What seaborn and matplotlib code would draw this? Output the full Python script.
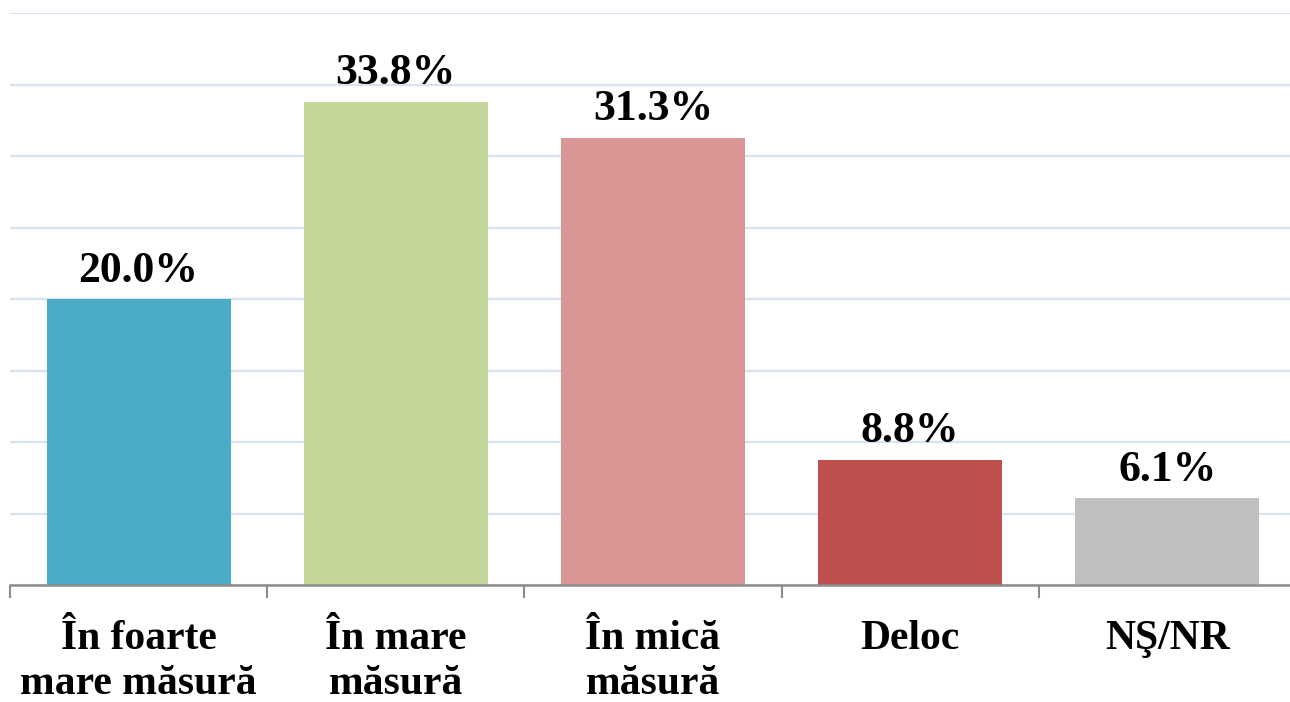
import matplotlib
matplotlib.use("Agg")
import matplotlib.pyplot as plt
import numpy as np
import pandas as pd
import seaborn as sns
from matplotlib.ticker import FixedLocator

categories = ["În foarte\nmare măsură", "În mare\nmăsură", "În mică\nmăsură", "Deloc", "NŞ/NR"]
values = [20.0, 33.8, 31.3, 8.8, 6.1]
colors = ["#4BACC6", "#C4D79B", "#DA9694", "#C0504D", "#BFBFBF"]

sns.set_style("white")
plt.rcParams["font.family"] = ["Liberation Serif", "DejaVu Serif"]

df = pd.DataFrame({"cat": categories, "val": values})

fig = plt.figure(figsize=(12.9, 7.02), dpi=100)
ax = fig.add_axes([10 / 1290, 0.166, 1286 / 1290, 0.8155])

sns.barplot(data=df, x="cat", y="val", hue="cat", palette=colors, legend=False,
            width=0.716, saturation=1, linewidth=0, ax=ax, zorder=3)

for c in ax.containers:
    ax.bar_label(c, fmt="%.1f%%", padding=6, fontsize=31.5, fontweight="bold", color="black")

ax.set_xlim(-0.5, len(categories) - 0.5)
ax.set_ylim(0, 40)
ax.set_yticks(np.arange(0, 41, 5))
ax.yaxis.grid(True, color="#D9E2F0", linewidth=1.6, zorder=0)
ax.set_axisbelow(True)
ax.tick_params(axis="y", left=False, labelleft=False)

ax.xaxis.set_minor_locator(FixedLocator(np.arange(-0.5, len(categories), 1.0)))
ax.tick_params(axis="x", which="major", length=0, pad=25, labelsize=30, labelcolor="black")
ax.tick_params(axis="x", which="minor", bottom=True, length=9, width=1.5, color="#8C8C8C", direction="out")
for lbl in ax.get_xticklabels():
    lbl.set_fontweight("bold")
    lbl.set_linespacing(1.25)

ax.set_xlabel("")
ax.set_ylabel("")
for s in ["top", "right", "left"]:
    ax.spines[s].set_visible(False)
ax.spines["bottom"].set_color("#8C8C8C")
ax.spines["bottom"].set_linewidth(1.8)
ax.spines["bottom"].set_zorder(4)

fig.savefig("out.png", dpi=100)
